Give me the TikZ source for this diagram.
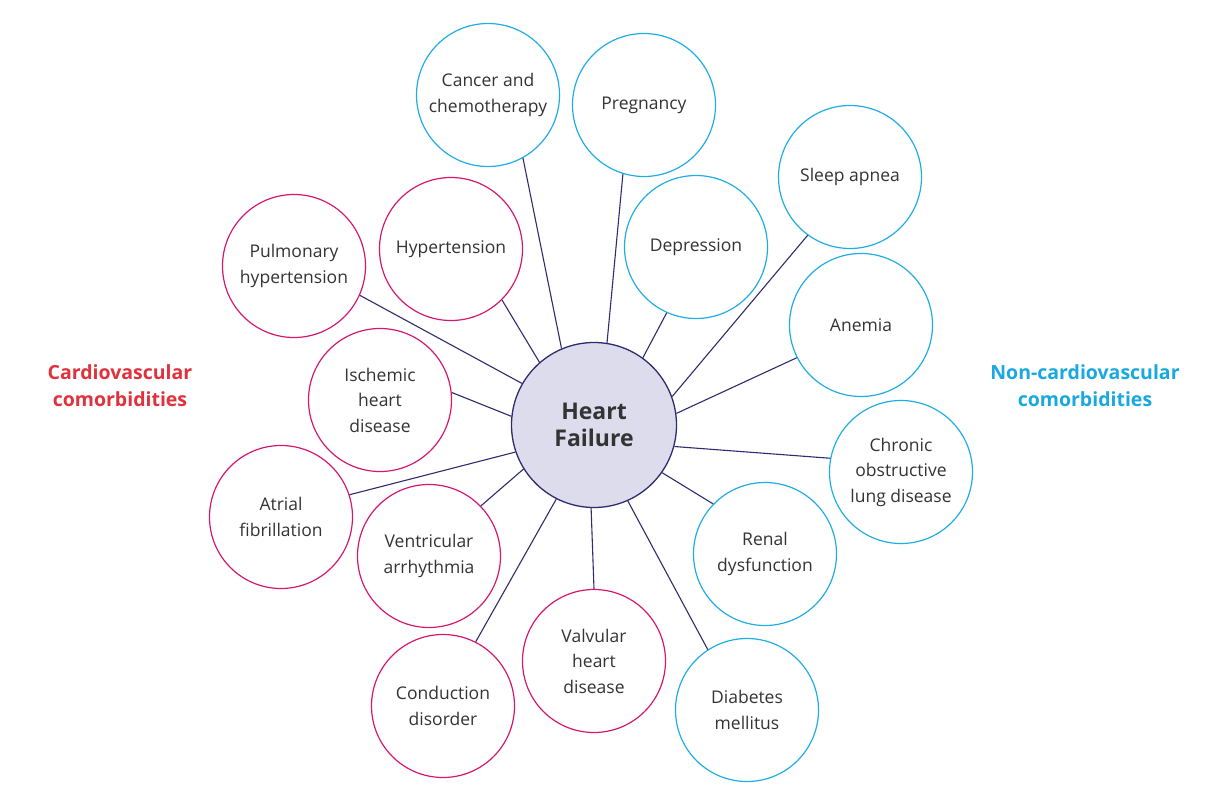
\documentclass[tikz,border=0pt]{standalone}
\usepackage{fontspec}
\setmainfont{Open Sans}
\definecolor{mag}{HTML}{D4176F}
\definecolor{cyanc}{HTML}{1FADE2}
\definecolor{navy}{HTML}{2E2B6F}
\definecolor{hubfill}{HTML}{DCDCEC}
\definecolor{txt}{HTML}{333333}
\definecolor{redlab}{HTML}{E0323C}
\definecolor{cyanlab}{HTML}{1AA8E0}
\begin{document}
\begin{tikzpicture}[x=1pt,y=1pt,
  cv/.style={circle, draw=mag, line width=1.2pt, minimum size=143pt, inner sep=0pt, align=center, text=txt, font=\fontsize{17.5}{25.5}\selectfont},
  ncv/.style={cv, draw=cyanc},
  hub/.style={circle, draw=navy, fill=hubfill, line width=1.3pt, minimum size=165pt, inner sep=0pt, align=center, text=txt, font=\fontsize{23}{27}\selectfont\bfseries},
  link/.style={draw=navy, line width=1.1pt},
  grouplab/.style={align=center, font=\fontsize{19.5}{27}\selectfont\bfseries}]
\useasboundingbox (0,0) rectangle (1223,-803);
\node[hub] (hf) at (594,-425) {Heart\\Failure};
% cardiovascular
\node[cv] (pulm) at (294,-266) {Pulmonary\\hypertension};
\node[cv] (hyp) at (451,-249) {Hypertension};
\node[cv] (isch) at (380,-400) {Ischemic\\heart\\disease};
\node[cv] (atr) at (281,-517) {Atrial\\fibrillation};
\node[cv] (vent) at (429,-556) {Ventricular\\arrhythmia};
\node[cv] (cond) at (443,-706) {Conduction\\disorder};
\node[cv] (valv) at (594,-661) {Valvular\\heart\\disease};
% non-cardiovascular
\node[ncv] (canc) at (488,-95) {Cancer and\\chemotherapy};
\node[ncv] (preg) at (644,-105) {Pregnancy};
\node[ncv] (depr) at (696,-247) {Depression};
\node[ncv] (sleep) at (850,-177) {Sleep apnea};
\node[ncv] (anem) at (861,-325) {Anemia};
\node[ncv] (copd) at (901,-472) {Chronic\\obstructive\\lung disease};
\node[ncv] (renal) at (765,-554) {Renal\\dysfunction};
\node[ncv] (diab) at (747,-710) {Diabetes\\mellitus};
% group labels
\node[grouplab, text=redlab] (cvlab) at (120,-386) {Cardiovascular\\comorbidities};
\node[grouplab, text=cyanlab] (ncvlab) at (1085,-386) {Non-cardiovascular\\comorbidities};
% connectors
\draw[link] (hf.113) -- (canc.-61);
\draw[link] (hf.81) -- (preg.-107);
\draw[link] (hf.54) -- (depr.-114);
\draw[link] (hf.20) -- (sleep.-126);
\draw[link] (hf.8) -- (anem.-153);
\draw[link] (hf.-15) -- (copd.169);
\draw[link] (hf.-35) -- (renal.136);
\draw[link] (hf.-66) -- (diab.123);
\draw[link] (hf.-92) -- (valv.90);
\draw[link] (hf.-117) -- (cond.63);
\draw[link] (hf.-148) -- (vent.44);
\draw[link] (hf.-161) -- (atr.18);
\draw[link] (hf.174) -- (isch.6);
\draw[link] (hf.150) -- (pulm.-24);
\draw[link] (hf.131) -- (hyp.-45);
\end{tikzpicture}
\end{document}
